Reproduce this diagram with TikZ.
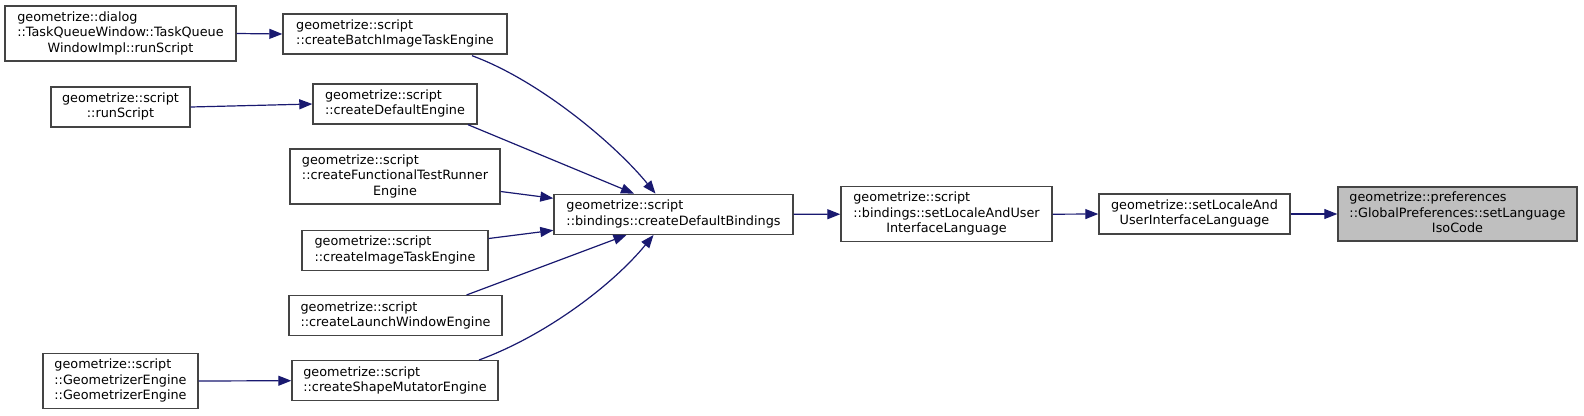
\documentclass[tikz,border=0pt]{standalone}
\usepackage{fontspec}
\setmainfont{DejaVu Sans}
\usetikzlibrary{arrows.meta,calc}
\definecolor{edgec}{HTML}{191970}
\definecolor{borderc}{HTML}{444444}
\definecolor{grayfill}{HTML}{BFBFBF}
\newcommand{\lastc}[1]{\multicolumn{1}{@{}c@{}}{#1}}
\begin{document}
\begin{tikzpicture}[x=1pt,y=-1pt,
  box/.style={draw=borderc, line width=1.4pt, fill=white, inner sep=0pt,
    font=\fontsize{12.8}{15.5}\selectfont, align=left},
  edge/.style={draw=edgec, line width=1.2pt, -{Triangle[length=13pt,width=10pt]}, fill=none}]
\useasboundingbox (0,0) rectangle (1584,415);
\node[box, minimum width=231pt, minimum height=55pt] (dialog) at (120.5,33.5)
  {\begin{tabular}{@{}l@{}}geometrize::dialog\\::TaskQueueWindow::TaskQueue\\\lastc{WindowImpl::runScript}\end{tabular}};
\node[box, minimum width=224pt, minimum height=40pt] (batch) at (395,34)
  {\begin{tabular}{@{}l@{}}geometrize::script\\::createBatchImageTaskEngine\end{tabular}};
\node[box, minimum width=139pt, minimum height=40pt] (runscript) at (120.5,107)
  {\begin{tabular}{@{}l@{}}geometrize::script\\\lastc{::runScript}\end{tabular}};
\node[box, minimum width=164pt, minimum height=40pt] (default) at (395,104)
  {\begin{tabular}{@{}l@{}}geometrize::script\\::createDefaultEngine\end{tabular}};
\node[box, minimum width=210pt, minimum height=55pt] (functional) at (395,176.5)
  {\begin{tabular}{@{}l@{}}geometrize::script\\::createFunctionalTestRunner\\\lastc{Engine}\end{tabular}};
\node[box, minimum width=186pt, minimum height=40pt] (image) at (395,250.5)
  {\begin{tabular}{@{}l@{}}geometrize::script\\::createImageTaskEngine\end{tabular}};
\node[box, minimum width=213pt, minimum height=40pt] (launch) at (395.5,315.7)
  {\begin{tabular}{@{}l@{}}geometrize::script\\::createLaunchWindowEngine\end{tabular}};
\node[box, minimum width=155pt, minimum height=55pt] (geomeng) at (120.5,381)
  {\begin{tabular}{@{}l@{}}geometrize::script\\::GeometrizerEngine\\\lastc{::GeometrizerEngine}\end{tabular}};
\node[box, minimum width=206pt, minimum height=40pt] (shape) at (395,380.7)
  {\begin{tabular}{@{}l@{}}geometrize::script\\::createShapeMutatorEngine\end{tabular}};
\node[box, minimum width=239pt, minimum height=40pt] (bindings) at (673.5,214.3)
  {\begin{tabular}{@{}l@{}}geometrize::script\\::bindings::createDefaultBindings\end{tabular}};
\node[box, minimum width=211pt, minimum height=55pt] (setlocuser) at (946.5,214.2)
  {\begin{tabular}{@{}l@{}}geometrize::script\\::bindings::setLocaleAndUser\\\lastc{InterfaceLanguage}\end{tabular}};
\node[box, minimum width=191pt, minimum height=40pt] (setlocale) at (1194.5,214)
  {\begin{tabular}{@{}l@{}}geometrize::setLocaleAnd\\\lastc{UserInterfaceLanguage}\end{tabular}};
\node[box, fill=grayfill, minimum width=239pt, minimum height=54pt] (global) at (1457.5,214)
  {\begin{tabular}{@{}l@{}}geometrize::preferences\\::GlobalPreferences::setLanguage\\\lastc{IsoCode}\end{tabular}};
% edges
\draw[edge] (dialog.east) -- (batch.west);
\draw[edge] (runscript.east) -- (default.west);
\draw[edge] (geomeng.east) -- (shape.west);
\draw[edge] ($(batch.south)+(77,1)$) .. controls ($(batch.south)+(145,26)$) and ($(bindings.north)+(-58,-49)$) .. ($(bindings.north)+(-18,0)$);
\draw[edge] ($(default.south)+(73,0)$) -- ($(bindings.north)+(-39.5,0)$);
\draw[edge] ($(functional.east)+(0,15)$) -- ($(bindings.west)+(0,-16)$);
\draw[edge] ($(image.east)+(0,-12)$) -- ($(bindings.west)+(0,16)$);
\draw[edge] ($(launch.north)+(71,0)$) -- ($(bindings.south)+(-47,0)$);
\draw[edge] ($(shape.north)+(84,0)$) .. controls ($(shape.north)+(152,-25)$) and ($(bindings.south)+(-60,49)$) .. ($(bindings.south)+(-20,0)$);
\draw[edge] (bindings.east) -- (setlocuser.west);
\draw[edge] (setlocuser.east) -- (setlocale.west);
\draw[edge] (setlocale.east) -- (global.west);
\end{tikzpicture}
\end{document}
